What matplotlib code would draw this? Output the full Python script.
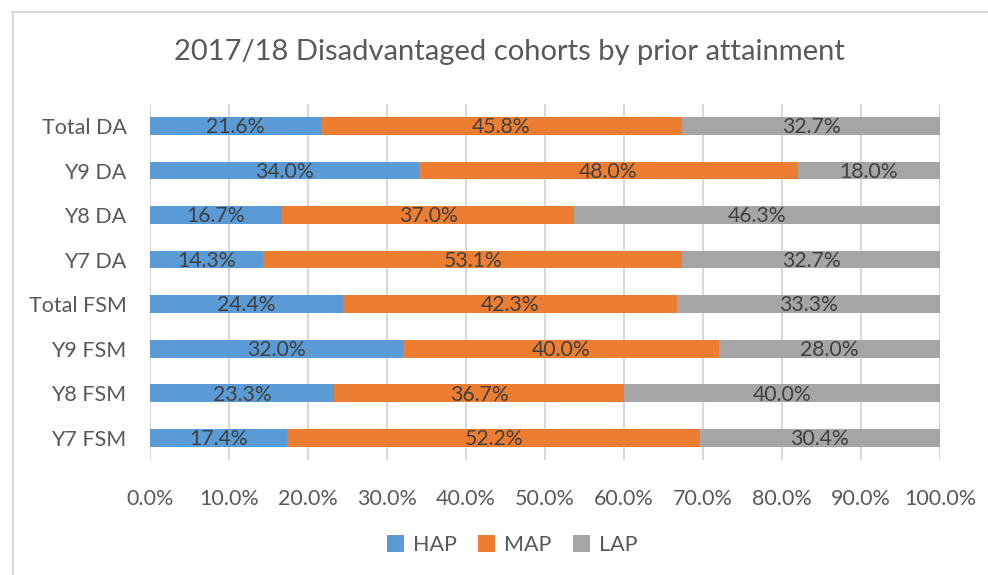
import matplotlib
matplotlib.use("Agg")
import matplotlib.pyplot as plt
from matplotlib.lines import Line2D
from matplotlib.patches import Patch

plt.rcParams['font.family'] = ['Lato', 'DejaVu Sans']

categories = ["Total DA", "Y9 DA", "Y8 DA", "Y7 DA", "Total FSM", "Y9 FSM", "Y8 FSM", "Y7 FSM"]
hap = [21.6, 34.0, 16.7, 14.3, 24.4, 32.0, 23.3, 17.4]
map_ = [45.8, 48.0, 37.0, 53.1, 42.3, 40.0, 36.7, 52.2]
lap = [32.7, 18.0, 46.3, 32.7, 33.3, 28.0, 40.0, 30.4]
series_names = ["HAP", "MAP", "LAP"]
colors = ["#5B9BD5", "#ED7D31", "#A5A5A5"]
xticks = [0, 10, 20, 30, 40, 50, 60, 70, 80, 90, 100]

fig = plt.figure(figsize=(9.88, 5.75), dpi=100)
ax = fig.add_axes([150/988, 1-460/575, 790/988, (460-103.7)/575])

ypos = list(range(len(categories)))
text_col = "#595959"
lefts = [0]*len(categories)
for vals, name, col in zip([hap, map_, lap], series_names, colors):
    ax.barh(ypos, vals, left=lefts, height=0.4, color=col, label=name, zorder=2)
    for y, l, v in zip(ypos, lefts, vals):
        ax.text(l + v/2, y + 0.03, f"{v:.1f}%", ha="center", va="center",
                fontsize=15.3, color="#404040", zorder=3)
    lefts = [a+b for a, b in zip(lefts, vals)]

ax.set_xlim(0, 100)
ax.set_ylim(len(categories)-0.5, -0.5)
ax.set_yticks(ypos)
ax.set_yticklabels(categories, fontsize=15.5, color=text_col)
ax.set_xticks(xticks)
ax.set_xticklabels([f"{t:.1f}%" for t in xticks], fontsize=15.5, color=text_col)
ax.tick_params(axis="both", length=0)
ax.tick_params(axis="y", pad=17)
ax.tick_params(axis="x", pad=21)
ax.grid(axis="x", color="#D9D9D9", linewidth=1.5, zorder=0)
for s in ax.spines.values():
    s.set_visible(False)

fig.text(509/988, 1-52/575, "2017/18 Disadvantaged cohorts by prior attainment",
         ha="center", va="center", fontsize=21, color=text_col)

handles = [Patch(facecolor=c, edgecolor="none") for c in colors]
fig.legend(handles, series_names, loc="center", bbox_to_anchor=(512/988, 1-545/575),
           ncol=3, frameon=False, fontsize=15.5, labelcolor=text_col,
           handlelength=0.8, handleheight=0.8, handletextpad=0.4, columnspacing=1.0)

# chart border
fig.add_artist(Line2D([12/988, 1], [1-11.5/575, 1-11.5/575], transform=fig.transFigure,
                      color="#D9D9D9", linewidth=1.5))
fig.add_artist(Line2D([12.5/988, 12.5/988], [0, 1-11.5/575], transform=fig.transFigure,
                      color="#D9D9D9", linewidth=1.5))

fig.savefig("out.png", dpi=100)
